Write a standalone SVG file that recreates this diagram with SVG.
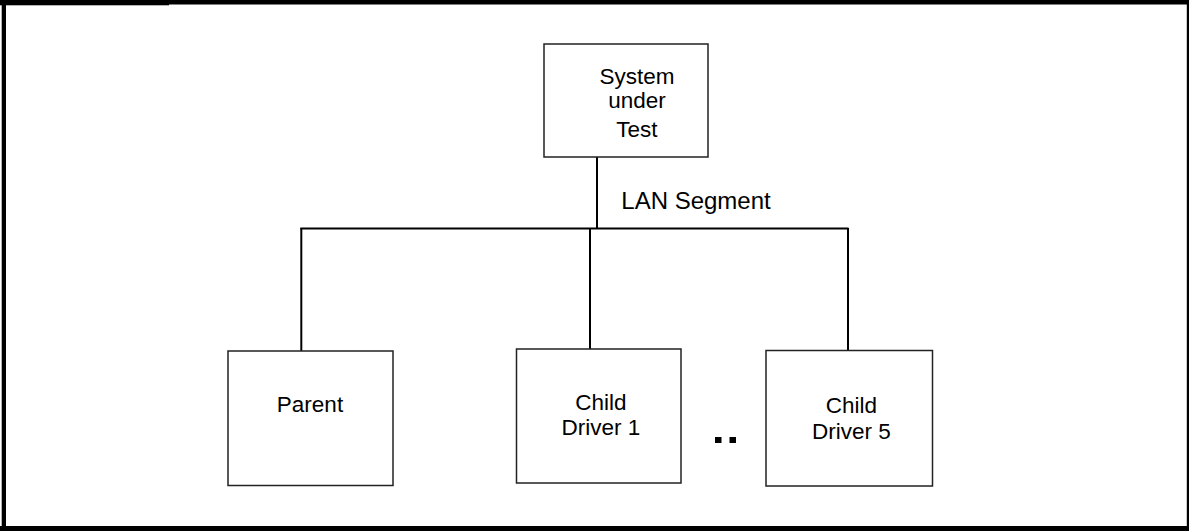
<svg xmlns="http://www.w3.org/2000/svg" width="1189" height="531" viewBox="0 0 1189 531">
<style>
.box{fill:#fff;stroke:#222;stroke-width:1.5}
.wire{stroke:#000;stroke-width:2;fill:none}
.lbl{font-family:"Liberation Sans",Arial,sans-serif;font-size:22.5px;fill:#000;text-anchor:middle}
</style>
<rect width="1189" height="531" fill="#fff"/>
<g id="frame" fill="#000">
<rect x="0" y="0" width="169" height="5.3"/>
<rect x="169" y="0" width="1020" height="4.5"/>
<rect x="1.7" y="0" width="4.3" height="531"/>
<rect x="1186.8" y="0" width="2.2" height="531"/>
<rect x="0" y="526" width="1189" height="5"/>
</g>
<g id="connectors" class="wire">
<line x1="597" y1="157" x2="597" y2="229"/>
<line x1="300.3" y1="228.5" x2="848.5" y2="228.5"/>
<line x1="301.3" y1="228" x2="301.3" y2="352"/>
<line x1="590" y1="228" x2="590" y2="353"/>
<line x1="848" y1="228" x2="848" y2="354"/>
</g>
<g id="sut">
<rect class="box" x="544" y="44" width="164" height="113"/>
<text class="lbl" x="637" y="84">System</text>
<text class="lbl" x="637" y="108">under</text>
<text class="lbl" x="637" y="137">Test</text>
</g>
<text id="lan" class="lbl" x="696" y="209" style="font-size:24px">LAN Segment</text>
<g id="parent">
<rect class="box" x="228" y="351" width="165" height="134.5"/>
<text class="lbl" x="310" y="411.5">Parent</text>
</g>
<g id="child1">
<rect class="box" x="516.5" y="349" width="164.5" height="134"/>
<text class="lbl" x="601" y="410">Child</text>
<text class="lbl" x="601" y="435">Driver 1</text>
</g>
<g id="ellipsis" fill="#000">
<rect x="715" y="437" width="6.5" height="6"/>
<rect x="729.5" y="437" width="6.5" height="6"/>
</g>
<g id="child5">
<rect class="box" x="766" y="350.5" width="166.5" height="135.5"/>
<text class="lbl" x="851.5" y="413">Child</text>
<text class="lbl" x="851.5" y="439">Driver 5</text>
</g>
</svg>
